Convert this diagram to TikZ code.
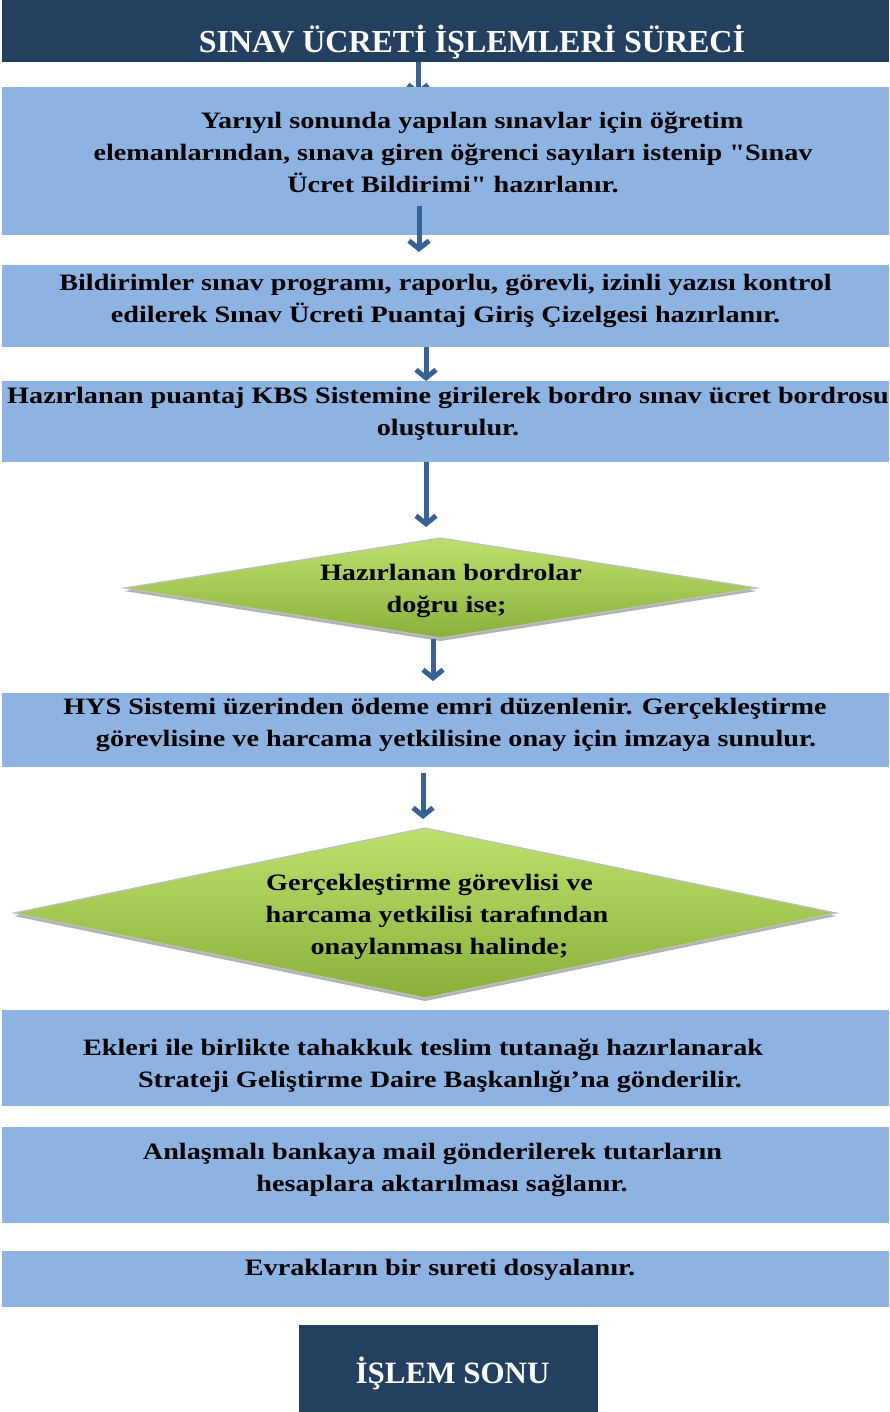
\documentclass[tikz,border=0pt]{standalone}
\usepackage{fontspec}
\setmainfont{Liberation Serif}[FakeStretch=1.2, Ligatures=TeXOff]
\newfontfamily\titlefont{Liberation Serif}
\usetikzlibrary{arrows.meta,shapes.geometric,shadows,backgrounds}
\definecolor{navy}{HTML}{244061}
\definecolor{lblue}{HTML}{8DB3E2}
\definecolor{arrowc}{HTML}{3A6197}
\definecolor{gtop}{HTML}{BEE06C}
\definecolor{gbot}{HTML}{8AB03A}
\newcommand\bodyfont{\bfseries\fontsize{23.5pt}{32pt}\selectfont}
\newcommand\headfont{\titlefont\bfseries\fontsize{32pt}{38pt}\selectfont}
\newcommand\closefont{\titlefont\bfseries\fontsize{31pt}{37pt}\selectfont}
% zero-size text block: #1 = twice the x offset, #2 = raise
\newcommand\zt[3]{\makebox[0pt]{\hspace*{#1}\raisebox{#2}[0pt][0pt]{\begin{tabular}{@{}c@{}}#3\end{tabular}}}}
\begin{document}
\begin{tikzpicture}[x=1pt,y=1pt,
  box/.style={rectangle, fill=lblue, draw=none, inner sep=0pt, outer sep=0pt,
    minimum width=887pt, font=\bodyfont, text=black},
  navybox/.style={rectangle, fill=navy, draw=none, inner sep=0pt, outer sep=0pt, text=white},
  dec/.style={diamond, inner sep=0pt, outer sep=0pt, top color=gtop, bottom color=gbot,
    draw=black!25, line width=1.2pt, font=\bodyfont, text=black,
    drop shadow={shadow xshift=0pt, shadow yshift=-3pt, fill=black, opacity=0.3}},
  arr/.style={draw=arrowc, line width=5pt, -{Straight Barb[length=8pt,width=20pt]}}]
\useasboundingbox (0,0) rectangle (889,-1412);

\node[navybox, minimum width=887pt, minimum height=62pt, font=\headfont] (title) at (445.5,-31)
  {\zt{53pt}{-20pt}{SINAV ÜCRETİ İŞLEMLERİ SÜRECİ}};

\node[box, minimum height=148pt] (b1) at (445.5,-161)
  {\zt{15pt}{1pt}{\hspace*{38pt}Yarıyıl sonunda yapılan sınavlar için öğretim\\
   elemanlarından, sınava giren öğrenci sayıları istenip "Sınav\\
   Ücret Bildirimi" hazırlanır.}};

\node[box, minimum height=82pt] (b2) at (445.5,-306)
  {\zt{0pt}{0pt}{Bildirimler sınav programı, raporlu, görevli, izinli yazısı kontrol\\
   edilerek Sınav Ücreti Puantaj Giriş Çizelgesi hazırlanır.}};

\node[box, minimum height=81pt] (b3) at (445.5,-421.5)
  {\zt{5pt}{2pt}{Hazırlanan puantaj KBS Sistemine girilerek bordro sınav ücret bordrosu\\
   oluşturulur.}};

\node[dec, minimum width=633pt, minimum height=100pt] (d1) at (440.5,-588)
  {\zt{12pt}{-8pt}{\hspace*{9pt}Hazırlanan bordrolar\\ doğru ise;}};

\node[box, minimum height=74pt] (b4) at (445.5,-730)
  {\zt{-1pt}{0pt}{HYS Sistemi üzerinden ödeme emri düzenlenir. Gerçekleştirme\\
   \hspace*{22pt}görevlisine ve harcama yetkilisine onay için imzaya sunulur.}};

\node[dec, minimum width=822pt, minimum height=170pt] (d2) at (425,-913)
  {\zt{24pt}{-9pt}{\hspace*{-15pt}Gerçekleştirme görevlisi ve\\
   harcama yetkilisi tarafından\\ \hspace*{5pt}onaylanması halinde;}};

\node[box, minimum height=96pt] (b5) at (445.5,-1058)
  {\zt{-45pt}{-13pt}{Ekleri ile birlikte tahakkuk teslim tutanağı hazırlanarak\\
   \hspace*{34pt}Strateji Geliştirme Daire Başkanlığı’na gönderilir.}};

\node[box, minimum height=96pt] (b6) at (445.5,-1175)
  {\zt{-26pt}{0pt}{Anlaşmalı bankaya mail gönderilerek tutarların\\
   \hspace*{19pt}hesaplara aktarılması sağlanır.}};

\node[box, minimum height=56pt] (b7) at (445.5,-1279)
  {\zt{-11pt}{4pt}{Evrakların bir sureti dosyalanır.}};

\node[navybox, minimum width=299pt, minimum height=87pt, font=\closefont] (fin) at (448.5,-1368.5)
  {\zt{8pt}{-13.5pt}{İŞLEM SONU}};

\coordinate (c1) at (418,0);
\coordinate (c2) at (419,0);
\coordinate (c3) at (426,0);
\coordinate (c5) at (433,0);
\coordinate (c6) at (423,0);

\begin{pgfonlayer}{background}
\draw[arr, shorten >=-9pt] (title.south -| c1) -- (b1.north -| c1);
\end{pgfonlayer}
\draw[arr, shorten <=-29pt, shorten >=13pt] (b1.south -| c2) -- (b2.north -| c2);
\draw[arr] (b2.south -| c3) -- (b3.north -| c3);
\draw[arr, shorten >=11pt] (b3.south -| c3) -- (d1.north -| c3);
\draw[arr, shorten <=1pt, shorten >=12pt] (d1.south -| c5) -- (b4.north -| c5);
\draw[arr, shorten <=6pt, shorten >=9pt] (b4.south -| c6) -- (d2.north -| c6);
\end{tikzpicture}
\end{document}
